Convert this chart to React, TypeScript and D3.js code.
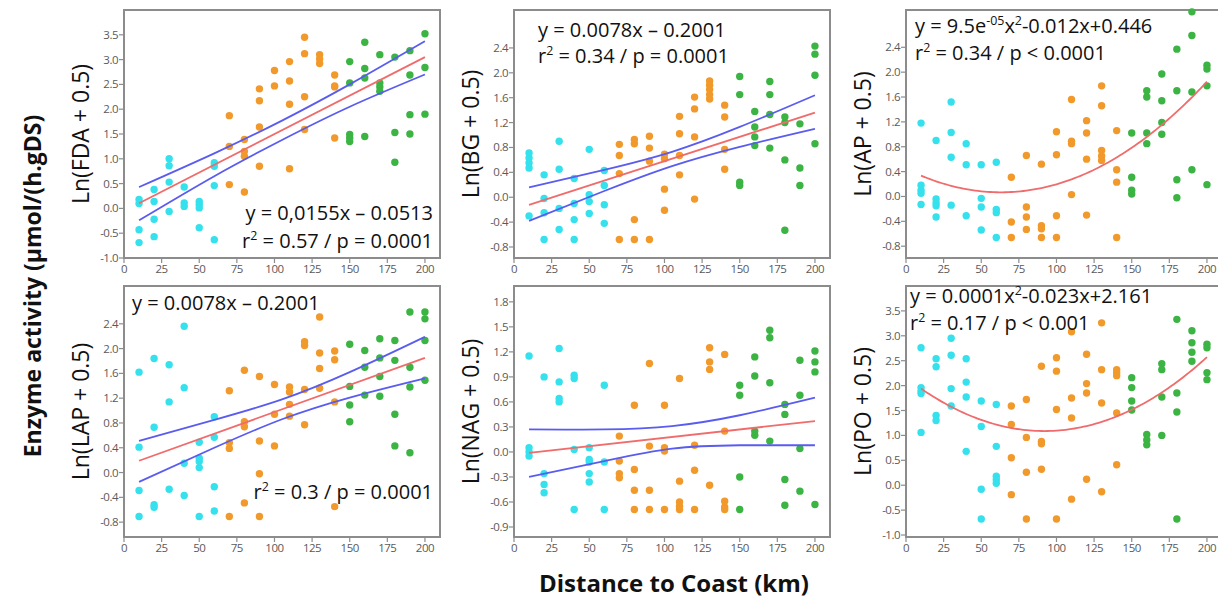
import React from 'react';
import * as d3 from 'd3';

// distance to coast (km) of each sampling group
const distances = [10, 20, 30, 40, 50, 60, 70, 80, 90, 100, 110, 120, 130, 140, 150, 160, 170, 180, 190, 200];
const xTicks = [0, 25, 50, 75, 100, 125, 150, 175, 200];

// values for each distance (same order as distances)
const fdaValues = [
  [0.18, 0.10, -0.43, -0.69], [0.38, 0.14, -0.22, -0.57], [1.0, 0.86, 0.53, -0.06], [0.43, 0.11, 0.04],
  [0.14, 0.08, 0.01, -0.39], [0.92, 0.85, 0.46, -0.63], [1.87, 1.25, 0.48], [1.39, 1.15, 1.05, 0.33],
  [2.41, 2.17, 1.64, 0.85], [2.78, 2.47], [2.96, 2.57, 2.10, 0.80], [3.45, 3.12, 2.25, 1.59],
  [3.10, 3.01, 2.92], [2.69, 2.47, 2.45, 1.42], [2.96, 2.53, 1.49, 1.42, 1.35], [3.35, 2.82, 2.63, 1.45],
  [3.10, 2.53, 2.45, 2.36], [3.05, 1.53, 0.93], [3.18, 2.69, 1.89, 1.50], [3.52, 2.84, 1.90],
];
const bgValues = [
  [0.71, 0.63, 0.55, 0.47, -0.30], [0.36, -0.02, -0.25, -0.68], [0.90, 0.45, -0.18, -0.52], [0.30, -0.10, -0.36, -0.68],
  [0.77, 0.04, -0.07, -0.26], [0.43, 0.19, -0.12, -0.42], [0.85, 0.67, 0.38, -0.68], [0.93, 0.86, -0.36, -0.68],
  [0.98, 0.79, 0.58, -0.68], [0.69, 0.62, 0.13, -0.21], [1.30, 1.02, 0.67, 0.36], [1.61, 1.42, 0.97, -0.03],
  [1.87, 1.80, 1.73, 1.65, 1.58], [1.48, 1.29, 0.77, 0.45], [1.94, 1.65, 0.24, 0.19], [1.38, 1.13, 0.97, 0.83],
  [1.86, 1.65, 1.33, 0.79], [1.29, 1.20, 0.60, -0.53], [1.18, 0.47, 0.19], [2.43, 2.30, 1.96, 0.86],
];
const apValues = [
  [1.18, 0.18, 0.10, 0.05, -0.13], [0.90, -0.04, -0.10, -0.15, -0.33], [1.52, 1.03, 0.63, -0.14], [0.85, 0.51, -0.31],
  [0.51, -0.03, -0.17, -0.54], [0.55, -0.21, -0.26, -0.66], [0.31, -0.41, -0.66], [0.66, -0.17, -0.33, -0.53],
  [0.52, -0.47, -0.52, -0.66], [1.04, 0.67, -0.31, -0.66], [1.56, 0.89, 0.85, 0.03], [1.22, 1.02, 0.60, -0.30],
  [1.78, 1.46, 0.74, 0.65, 0.58], [1.06, 0.43, 0.23, -0.66], [1.02, 0.31, 0.10, 0.04], [1.70, 1.60, 1.02, 0.85],
  [1.97, 1.54, 1.19, 1.00], [2.37, 1.70, 0.27, -0.02], [2.97, 2.59, 1.68, 0.43], [2.11, 2.05, 1.78, 0.19],
];
const lapValues = [
  [1.62, 0.41, -0.29, -0.71], [1.84, 0.73, -0.52, -0.56], [1.74, 1.14, -0.27], [2.36, 1.37, 0.15, -0.37],
  [0.49, 0.23, 0.18, 0.08, -0.71], [0.90, 0.57, -0.23, -0.62], [1.32, 0.48, 0.39, -0.71], [1.65, 0.82, 0.74, -0.49],
  [1.55, 0.51, -0.02, -0.71], [1.42, 0.94, 0.43], [1.38, 1.30, 1.10, 0.91], [2.11, 2.05, 1.34, 0.77],
  [2.51, 1.93, 1.68, 1.36], [1.96, 1.82, 1.14, -0.55], [2.07, 1.39, 1.09, 0.82], [1.97, 1.70, 1.25],
  [2.16, 1.85, 1.55, 1.23], [2.13, 1.81, 0.94, 0.43], [2.59, 1.70, 1.38, 0.32], [2.59, 2.48, 2.13, 1.49],
];
const nagValues = [
  [1.15, 0.05, 0.0, -0.05], [0.90, -0.26, -0.39, -0.49], [1.24, 0.84, 0.64, 0.60], [0.92, 0.88, 0.03, -0.69],
  [0.05, -0.09, -0.12, -0.26, -0.36], [0.80, -0.12, -0.69], [0.19, -0.11, -0.26, -0.31], [0.56, -0.21, -0.46, -0.69],
  [1.06, 0.07, -0.46, -0.69], [0.56, 0.05, 0.01, -0.69], [0.88, -0.35, -0.60, -0.65, -0.69], [0.08, -0.22, -0.69],
  [1.25, 1.08, 0.99, -0.40], [1.17, 0.25, -0.59, -0.66, -0.69], [0.80, 0.68, -0.30, -0.69], [1.14, 0.91, 0.25, 0.20],
  [1.46, 1.37, 0.83, 0.13], [0.57, 0.45, -0.33, -0.64], [1.10, 0.68, 0.04, -0.47], [1.21, 1.08, 0.96, -0.63],
];
const poValues = [
  [2.76, 1.96, 1.89, 1.84, 1.06], [2.54, 2.38, 1.40, 1.30], [2.95, 2.61, 1.94, 1.59], [2.54, 2.07, 1.77, 0.68],
  [1.69, 1.18, -0.08, -0.68], [1.62, 0.78, 0.18, 0.11, 0.04], [1.59, 1.22, 0.55, -0.19], [1.72, 0.96, 0.26, -0.68],
  [2.39, 0.88, 0.83, 0.32], [2.56, 2.29, 1.52, -0.68], [3.08, 1.75, 1.35, -0.28], [2.63, 2.04, 1.85, 0.12],
  [3.26, 2.32, 1.65, -0.13], [2.32, 2.26, 2.20, 1.45, 0.41], [2.16, 1.96, 1.69, 1.51], [1.02, 0.91, 0.81],
  [2.44, 2.32, 1.77, 1.00], [3.33, 1.85, 1.47, -0.68], [3.10, 2.86, 2.67, 2.49], [2.83, 2.76, 2.26, 2.12],
];

// y tick labels
const ticksHalf = [-1.0, -0.5, 0.0, 0.5, 1.0, 1.5, 2.0, 2.5, 3.0, 3.5];
const ticksFour = [-0.8, -0.4, 0.0, 0.4, 0.8, 1.2, 1.6, 2.0, 2.4];
const ticksNag = [-0.9, -0.6, -0.3, 0.0, 0.3, 0.6, 0.9, 1.2, 1.5, 1.8];

// fitted lines: linear fit ends at x = 10 and 200
const fitEnds = [10, 200];
const fdaFit = [0.104, 3.05];
const bgFit = [-0.122, 1.36];
const lapFit = [0.19, 1.85];
const nagFit = [-0.01, 0.37];
// quadratic fits [a, b, c]
const apFit = [9.5e-5, -0.012, 0.446];
const poFit = [1.27e-4, -0.02335, 2.161];

// confidence bands read at these distances
const bandX = [10, 60, 105, 150, 200];
const fdaUpper = [0.43, 1.11, 1.77, 2.50, 3.37];
const fdaLower = [-0.24, 0.65, 1.38, 2.05, 2.70];
const bgUpper = [0.16, 0.44, 0.73, 1.13, 1.64];
const bgLower = [-0.38, 0.10, 0.50, 0.81, 1.10];
const lapUpper = [0.51, 0.85, 1.18, 1.62, 2.19];
const lapLower = [-0.15, 0.40, 0.86, 1.21, 1.52];
const nagUpper = [0.27, 0.27, 0.31, 0.44, 0.65];
const nagLower = [-0.30, -0.11, 0.04, 0.08, 0.08];

const zoneColor = (d: number) => (d <= 60 ? '#35e1ec' : d <= 140 ? '#f19a2b' : '#3bb444');
const RED = '#f06b6b';
const BLUE = '#5a5cf0';
const FONT = "'Open Sans', sans-serif";

const PW = 316;

const panels = [
  { title: 'Ln(FDA + 0.5)', left: 124, top: 10, bottom: 258, yDomain: [-1.0, 4.0], yTicks: ticksHalf, values: fdaValues, lin: fdaFit, upper: fdaUpper, lower: fdaLower, titleX: 80 },
  { title: 'Ln(BG + 0.5)', left: 514, top: 10, bottom: 258, yDomain: [-0.977, 3.01], yTicks: ticksFour, values: bgValues, lin: bgFit, upper: bgUpper, lower: bgLower, titleX: 470 },
  { title: 'Ln(AP + 0.5)', left: 906, top: 10, bottom: 258, yDomain: [-0.99, 3.0], yTicks: ticksFour, values: apValues, quad: apFit, titleX: 862 },
  { title: 'Ln(LAP + 0.5)', left: 124, top: 286, bottom: 537, yDomain: [-1.04, 3.01], yTicks: ticksFour, values: lapValues, lin: lapFit, upper: lapUpper, lower: lapLower, titleX: 80 },
  { title: 'Ln(NAG + 0.5)', left: 514, top: 286, bottom: 537, yDomain: [-1.02, 1.99], yTicks: ticksNag, values: nagValues, lin: nagFit, upper: nagUpper, lower: nagLower, titleX: 470 },
  { title: 'Ln(PO + 0.5)', left: 906, top: 286, bottom: 537, yDomain: [-1.04, 4.0], yTicks: ticksHalf, values: poValues, quad: poFit, titleX: 862 },
];

const Sup = ({ children }: { children: string }) => (
  <tspan baselineShift="super" fontSize="62%">{children}</tspan>
);

function Panel({ p }: { p: any }) {
  const x = d3.scaleLinear().domain([0, 210]).range([p.left, p.left + PW]);
  const y = d3.scaleLinear().domain(p.yDomain).range([p.bottom, p.top]);
  const line = d3.line<[number, number]>().x(d => x(d[0])).y(d => y(d[1]));
  const band = d3.line<[number, number]>().x(d => x(d[0])).y(d => y(d[1])).curve(d3.curveNatural);

  let fitPath = '';
  if (p.lin) fitPath = line(fitEnds.map((e, i) => [e, p.lin[i]] as [number, number])) || '';
  if (p.quad) {
    const [a, b, c] = p.quad;
    fitPath = line(d3.range(10, 201, 2).map(d => [d, a * d * d + b * d + c] as [number, number])) || '';
  }

  const dots: { d: number; v: number }[] = [];
  distances.forEach((d, i) => p.values[i].forEach((v: number) => dots.push({ d, v })));

  return (
    <g>
      <rect x={p.left} y={p.top} width={PW} height={p.bottom - p.top} fill="#fff" stroke="#8c8c8c" strokeWidth={2} />
      {p.yTicks.map((t: number) => (
        <g key={t}>
          <line x1={p.left - 5} x2={p.left} y1={y(t)} y2={y(t)} stroke="#8c8c8c" strokeWidth={1.2} />
          <text x={p.left - 6} y={y(t)} dy="0.35em" textAnchor="end" fontSize={11.5} fill="#5a5a5a" fontFamily={FONT} letterSpacing={-0.5}>
            {t.toFixed(1)}
          </text>
        </g>
      ))}
      {xTicks.map(t => (
        <g key={t}>
          <line x1={x(t)} x2={x(t)} y1={p.bottom} y2={p.bottom + 5} stroke="#8c8c8c" strokeWidth={1.2} />
          <text x={x(t)} y={p.bottom + 15} textAnchor="middle" fontSize={11.5} fill="#5a5a5a" fontFamily={FONT} letterSpacing={-0.5}>
            {t}
          </text>
        </g>
      ))}
      {dots.map((o, i) => (
        <circle key={i} cx={x(o.d)} cy={y(o.v)} r={3.7} fill={zoneColor(o.d)} />
      ))}
      {p.upper && (
        <>
          <path d={band(bandX.map((d, i) => [d, p.upper[i]] as [number, number])) || ''} fill="none" stroke={BLUE} strokeWidth={1.8} />
          <path d={band(bandX.map((d, i) => [d, p.lower[i]] as [number, number])) || ''} fill="none" stroke={BLUE} strokeWidth={1.8} />
        </>
      )}
      <path d={fitPath} fill="none" stroke={RED} strokeWidth={1.8} />
      <text
        transform={`translate(${p.titleX},${(p.top + p.bottom) / 2}) rotate(-90)`}
        textAnchor="middle"
        dominantBaseline="central"
        fontSize={23}
        fill="#111"
        fontFamily={FONT}
      >
        {p.title}
      </text>
    </g>
  );
}

export default function App() {
  const eq = { fontSize: 20, fill: '#111', fontFamily: FONT };
  return (
    <div style={{ position: 'absolute', left: 0, top: 0 }}>
      <svg width={1218} height={599} style={{ display: 'block', background: '#fff' }}>
        {panels.map((p, i) => (
          <Panel key={i} p={p} />
        ))}
        {/* equations */}
        <text x={433} y={220} textAnchor="end" {...eq}>y = 0,0155x – 0.0513</text>
        <text x={433} y={248} textAnchor="end" {...eq}>r<Sup>2</Sup> = 0.57 / p = 0.0001</text>
        <text x={538} y={37} {...eq}>y = 0.0078x – 0.2001</text>
        <text x={538} y={63} {...eq}>r<Sup>2</Sup> = 0.34 / p = 0.0001</text>
        <text x={915} y={33} {...eq}>y = 9.5e<Sup>-05</Sup>x<Sup>2</Sup>-0.012x+0.446</text>
        <text x={915} y={60} {...eq}>r<Sup>2</Sup> = 0.34 / p &lt; 0.0001</text>
        <text x={132} y={310} {...eq}>y = 0.0078x – 0.2001</text>
        <text x={433} y={499} textAnchor="end" {...eq}>r<Sup>2</Sup> = 0.3 / p = 0.0001</text>
        <text x={910} y={303} {...eq}>y = 0.0001x<Sup>2</Sup>-0.023x+2.161</text>
        <text x={910} y={330} {...eq}>r<Sup>2</Sup> = 0.17 / p &lt; 0.001</text>
        {/* shared axis titles */}
        <text
          transform="translate(32,286) rotate(-90)"
          textAnchor="middle"
          dominantBaseline="central"
          fontSize={23}
          fontWeight="bold"
          fill="#111"
          fontFamily={FONT}
        >
          Enzyme activity (µmol/(h.gDS)
        </text>
        <text x={674} y={592} textAnchor="middle" fontSize={24} fontWeight="bold" fill="#111" fontFamily={FONT}>
          Distance to Coast (km)
        </text>
      </svg>
    </div>
  );
}
